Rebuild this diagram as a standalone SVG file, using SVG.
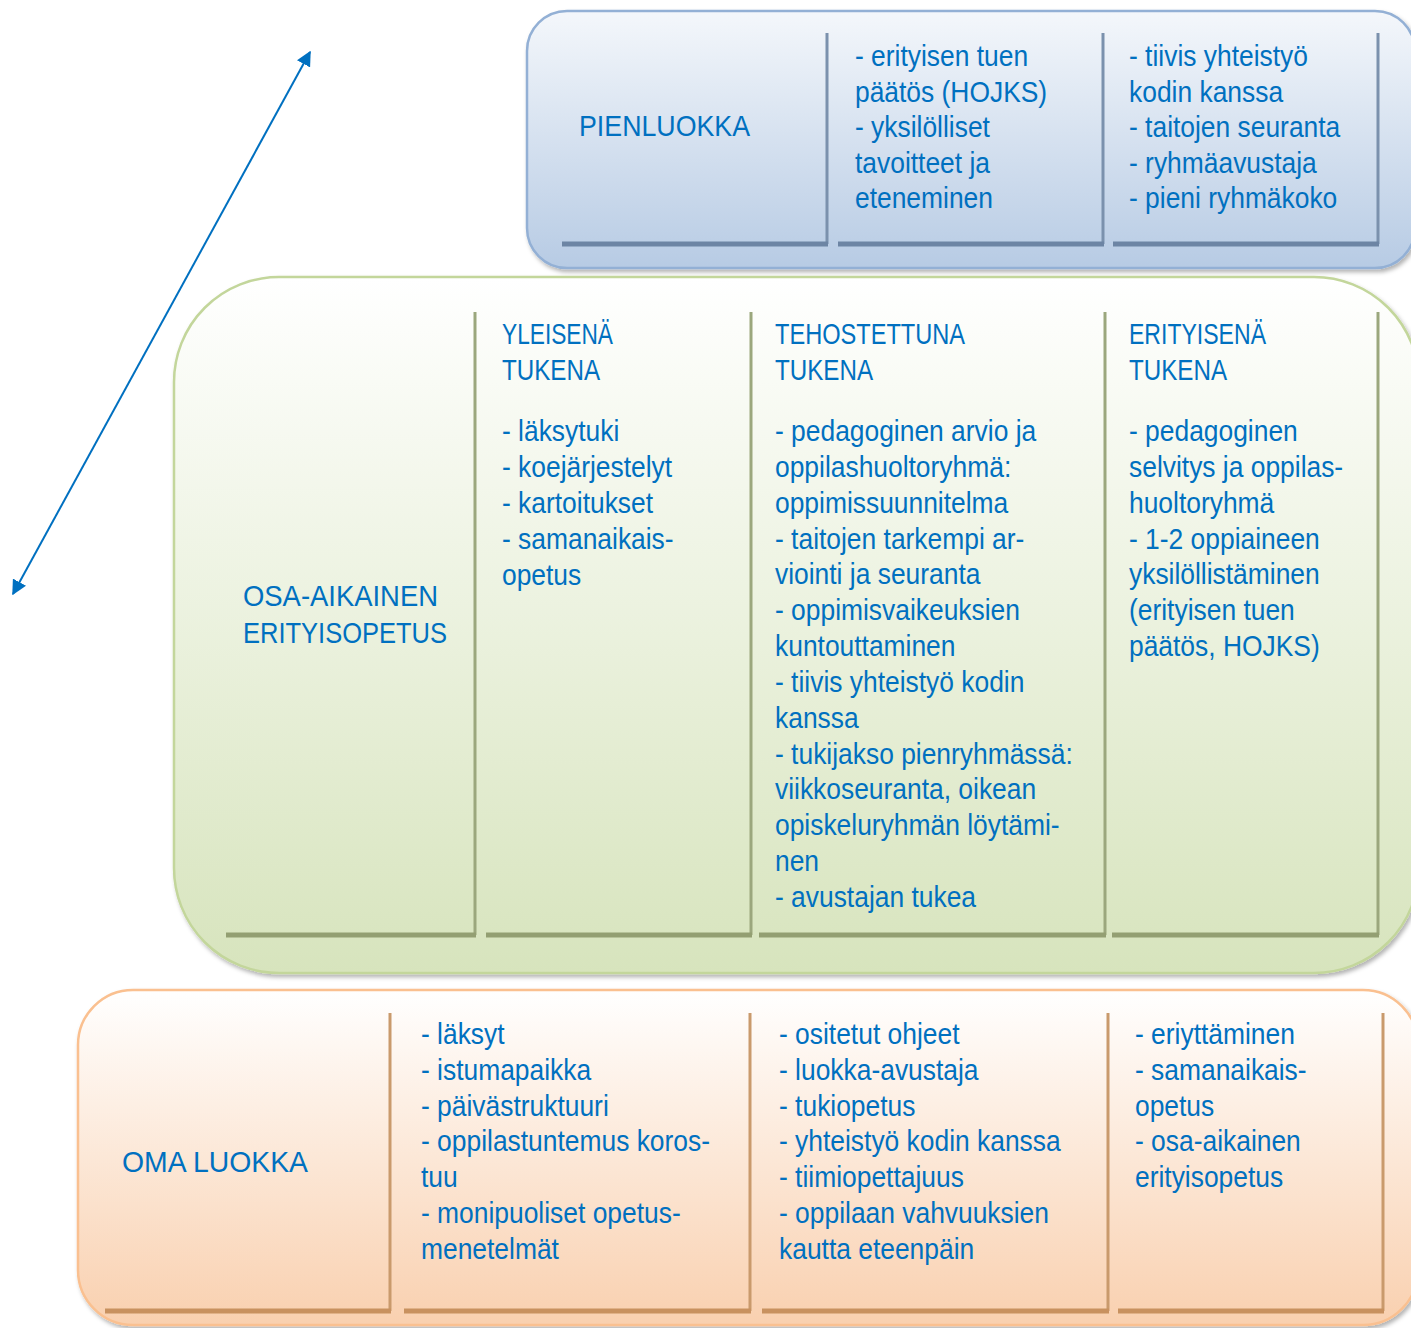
<svg xmlns="http://www.w3.org/2000/svg" width="1411" height="1328" viewBox="0 0 1411 1328">
<style>
.t{font-family:"Liberation Sans",Arial,sans-serif;font-size:30px;fill:#0070c0}
.bb{fill:none;stroke:#6d85a4;stroke-width:5}
.bv{fill:none;stroke:#7b91ad;stroke-width:3}
.gb{fill:none;stroke:#939f72;stroke-width:5}
.gv{fill:none;stroke:#9ba77d;stroke-width:3}
.ob{fill:none;stroke:#c8915f;stroke-width:5}
.ov{fill:none;stroke:#c99a6c;stroke-width:3}
</style>
<defs>
<linearGradient id="gBlue" x1="0" y1="0" x2="0" y2="1"><stop offset="0" stop-color="#f4f7fb"/><stop offset="1" stop-color="#b7cbe4"/></linearGradient>
<linearGradient id="gGreen" x1="0" y1="0" x2="0" y2="1"><stop offset="0" stop-color="#ffffff"/><stop offset="1" stop-color="#d7e4bd"/></linearGradient>
<linearGradient id="gOrange" x1="0" y1="0" x2="0" y2="1"><stop offset="0" stop-color="#ffffff"/><stop offset="1" stop-color="#f9d0af"/></linearGradient>
<filter id="sh" x="-5%" y="-5%" width="110%" height="115%"><feDropShadow dx="2" dy="3" stdDeviation="2" flood-color="#000" flood-opacity="0.3"/></filter>
<marker id="ah" viewBox="0 0 10 10" refX="9" refY="5" markerWidth="7.5" markerHeight="7.5" orient="auto-start-reverse" markerUnits="strokeWidth"><path d="M0,0 L10,5 L0,10 z" fill="#0070c0"/></marker>
</defs>

<g id="connectors">
<line x1="13" y1="594" x2="310" y2="52" stroke="#0070c0" stroke-width="2" marker-start="url(#ah)" marker-end="url(#ah)"/>
</g>

<g id="pienluokka">
<rect x="527" y="11" width="888" height="257" rx="40" fill="url(#gBlue)" stroke="#93b0d5" stroke-width="2.5" filter="url(#sh)"/>
<path class="bv" d="M827,33 V244 M1103,33 V244 M1378,33 V244"/>
<path class="bb" d="M562,244 H828 M838,244 H1104 M1113,244 H1379"/>
<text class="t" x="579" y="136" textLength="171" lengthAdjust="spacingAndGlyphs">PIENLUOKKA</text>
<g transform="translate(855,0) scale(0.88,1)"><text class="t" y="66"><tspan x="0">- erityisen tuen</tspan><tspan x="0" dy="35.6">päätös (HOJKS)</tspan><tspan x="0" dy="35.6">- yksilölliset</tspan><tspan x="0" dy="35.6">tavoitteet ja</tspan><tspan x="0" dy="35.6">eteneminen</tspan></text></g>
<g transform="translate(1129,0) scale(0.88,1)"><text class="t" y="66"><tspan x="0">- tiivis yhteistyö</tspan><tspan x="0" dy="35.6">kodin kanssa</tspan><tspan x="0" dy="35.6">- taitojen seuranta</tspan><tspan x="0" dy="35.6">- ryhmäavustaja</tspan><tspan x="0" dy="35.6">- pieni ryhmäkoko</tspan></text></g>
</g>

<g id="osa-aikainen">
<rect x="174" y="277" width="1245" height="696" rx="105" fill="url(#gGreen)" stroke="#c3d69b" stroke-width="2.5" filter="url(#sh)"/>
<path class="gv" d="M475,312 V935 M751,312 V935 M1105,312 V935 M1378,312 V935"/>
<path class="gb" d="M226,935 H476 M486,935 H752 M759,935 H1106 M1112,935 H1379"/>
<text class="t" x="243" y="606" textLength="195" lengthAdjust="spacingAndGlyphs">OSA-AIKAINEN</text>
<text class="t" x="243" y="643" textLength="204" lengthAdjust="spacingAndGlyphs">ERITYISOPETUS</text>
<text class="t" x="502" y="344" textLength="111" lengthAdjust="spacingAndGlyphs">YLEISENÄ</text>
<text class="t" x="502" y="380" textLength="98" lengthAdjust="spacingAndGlyphs">TUKENA</text>
<g transform="translate(502,0) scale(0.88,1)"><text class="t" y="441"><tspan x="0">- läksytuki</tspan><tspan x="0" dy="36">- koejärjestelyt</tspan><tspan x="0" dy="36">- kartoitukset</tspan><tspan x="0" dy="36">- samanaikais-</tspan><tspan x="0" dy="36">opetus</tspan></text></g>
<text class="t" x="775" y="344" textLength="190" lengthAdjust="spacingAndGlyphs">TEHOSTETTUNA</text>
<text class="t" x="775" y="380" textLength="98" lengthAdjust="spacingAndGlyphs">TUKENA</text>
<g transform="translate(775,0) scale(0.88,1)"><text class="t" y="441"><tspan x="0">- pedagoginen arvio ja</tspan><tspan x="0" dy="35.85">oppilashuoltoryhmä:</tspan><tspan x="0" dy="35.85">oppimissuunnitelma</tspan><tspan x="0" dy="35.85">- taitojen tarkempi ar-</tspan><tspan x="0" dy="35.85">viointi ja seuranta</tspan><tspan x="0" dy="35.85">- oppimisvaikeuksien</tspan><tspan x="0" dy="35.85">kuntouttaminen</tspan><tspan x="0" dy="35.85">- tiivis yhteistyö kodin</tspan><tspan x="0" dy="35.85">kanssa</tspan><tspan x="0" dy="35.85">- tukijakso pienryhmässä:</tspan><tspan x="0" dy="35.85">viikkoseuranta, oikean</tspan><tspan x="0" dy="35.85">opiskeluryhmän löytämi-</tspan><tspan x="0" dy="35.85">nen</tspan><tspan x="0" dy="35.85">- avustajan tukea</tspan></text></g>
<text class="t" x="1129" y="344" textLength="137" lengthAdjust="spacingAndGlyphs">ERITYISENÄ</text>
<text class="t" x="1129" y="380" textLength="98" lengthAdjust="spacingAndGlyphs">TUKENA</text>
<g transform="translate(1129,0) scale(0.88,1)"><text class="t" y="441"><tspan x="0">- pedagoginen</tspan><tspan x="0" dy="35.85">selvitys ja oppilas-</tspan><tspan x="0" dy="35.85">huoltoryhmä</tspan><tspan x="0" dy="35.85">- 1-2 oppiaineen</tspan><tspan x="0" dy="35.85">yksilöllistäminen</tspan><tspan x="0" dy="35.85">(erityisen tuen</tspan><tspan x="0" dy="35.85">päätös, HOJKS)</tspan></text></g>
</g>

<g id="oma-luokka">
<rect x="78" y="990" width="1340" height="335" rx="55" fill="url(#gOrange)" stroke="#fac090" stroke-width="2.5" filter="url(#sh)"/>
<path class="ov" d="M390,1013 V1311 M750,1013 V1311 M1108,1013 V1311 M1383,1013 V1311"/>
<path class="ob" d="M105,1311 H391 M404,1311 H751 M762,1311 H1109 M1118,1311 H1384"/>
<text class="t" x="122" y="1172" textLength="186" lengthAdjust="spacingAndGlyphs">OMA LUOKKA</text>
<g transform="translate(421,0) scale(0.88,1)"><text class="t" y="1044"><tspan x="0">- läksyt</tspan><tspan x="0" dy="35.8">- istumapaikka</tspan><tspan x="0" dy="35.8">- päivästruktuuri</tspan><tspan x="0" dy="35.8">- oppilastuntemus koros-</tspan><tspan x="0" dy="35.8">tuu</tspan><tspan x="0" dy="35.8">- monipuoliset opetus-</tspan><tspan x="0" dy="35.8">menetelmät</tspan></text></g>
<g transform="translate(779,0) scale(0.88,1)"><text class="t" y="1044"><tspan x="0">- ositetut ohjeet</tspan><tspan x="0" dy="35.8">- luokka-avustaja</tspan><tspan x="0" dy="35.8">- tukiopetus</tspan><tspan x="0" dy="35.8">- yhteistyö kodin kanssa</tspan><tspan x="0" dy="35.8">- tiimiopettajuus</tspan><tspan x="0" dy="35.8">- oppilaan vahvuuksien</tspan><tspan x="0" dy="35.8">kautta eteenpäin</tspan></text></g>
<g transform="translate(1135,0) scale(0.88,1)"><text class="t" y="1044"><tspan x="0">- eriyttäminen</tspan><tspan x="0" dy="35.8">- samanaikais-</tspan><tspan x="0" dy="35.8">opetus</tspan><tspan x="0" dy="35.8">- osa-aikainen</tspan><tspan x="0" dy="35.8">erityisopetus</tspan></text></g>
</g>
</svg>
